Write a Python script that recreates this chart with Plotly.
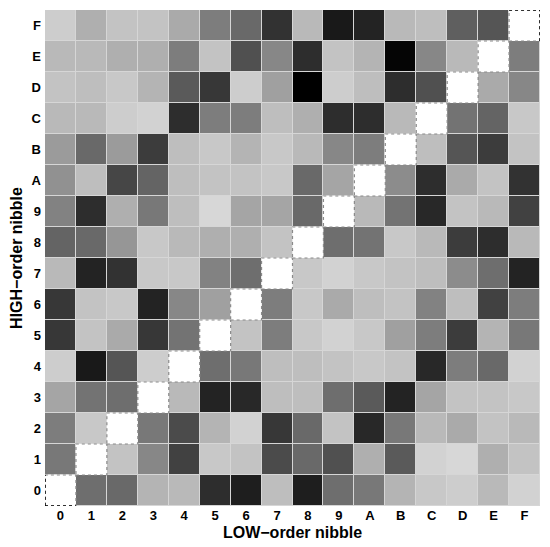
import plotly.graph_objects as go

low_labels = ['0', '1', '2', '3', '4', '5', '6', '7', '8', '9', 'A', 'B', 'C', 'D', 'E', 'F']
high_labels = ['0', '1', '2', '3', '4', '5', '6', '7', '8', '9', 'A', 'B', 'C', 'D', 'E', 'F']

# gray intensity (0 = black, 255 = white); rows = HIGH nibble 0..F, cols = LOW nibble 0..F
row_0 = [255, 110, 105, 180, 185, 45, 30, 190, 30, 110, 120, 180, 200, 205, 185, 210]
row_1 = [120, 255, 195, 135, 65, 200, 195, 75, 105, 80, 175, 90, 210, 215, 175, 195]
row_2 = [125, 200, 255, 120, 75, 180, 210, 55, 105, 195, 40, 120, 185, 170, 195, 185]
row_3 = [165, 115, 110, 255, 185, 35, 40, 190, 190, 110, 90, 35, 165, 195, 195, 200]
row_4 = [205, 25, 85, 205, 255, 110, 120, 190, 190, 195, 200, 195, 40, 125, 105, 210]
row_5 = [55, 195, 170, 55, 115, 255, 195, 125, 200, 210, 200, 160, 125, 60, 180, 120]
row_6 = [55, 195, 200, 35, 135, 160, 255, 125, 200, 170, 190, 195, 130, 190, 65, 125]
row_7 = [185, 35, 50, 200, 200, 130, 110, 255, 200, 210, 200, 195, 190, 140, 110, 35]
row_8 = [100, 105, 150, 200, 185, 175, 175, 195, 255, 110, 115, 200, 185, 60, 45, 185]
row_9 = [130, 45, 175, 120, 190, 215, 165, 165, 105, 255, 185, 115, 40, 195, 185, 65]
row_A = [145, 190, 70, 100, 190, 195, 195, 200, 105, 165, 255, 140, 45, 170, 195, 50]
row_B = [155, 105, 155, 60, 190, 200, 180, 200, 185, 135, 125, 255, 190, 85, 60, 195]
row_C = [185, 185, 205, 210, 45, 125, 125, 190, 175, 45, 45, 185, 255, 115, 100, 200]
row_D = [195, 190, 200, 180, 90, 55, 205, 160, 0, 205, 190, 45, 80, 255, 170, 135]
row_E = [185, 185, 175, 175, 125, 195, 80, 135, 45, 195, 180, 5, 135, 185, 255, 125]
row_F = [205, 175, 195, 195, 170, 125, 105, 50, 185, 25, 35, 185, 190, 95, 85, 255]

z = [row_0, row_1, row_2, row_3, row_4, row_5, row_6, row_7,
     row_8, row_9, row_A, row_B, row_C, row_D, row_E, row_F]

fig = go.Figure(go.Heatmap(
    x=low_labels, y=high_labels, z=z,
    colorscale=[[0, 'rgb(0,0,0)'], [1, 'rgb(255,255,255)']],
    zmin=0, zmax=255, showscale=False, xgap=1, ygap=1,
    hoverinfo='skip'
))

shapes = []
n = len(low_labels)
for i in range(n):
    shapes.append(dict(type='rect', xref='x', yref='y',
                       x0=i - 0.5, x1=i + 0.5, y0=i - 0.5, y1=i + 0.5,
                       line=dict(color='#8a8a8a', width=1.2, dash='dot'),
                       fillcolor='white', layer='above'))
# darker dotted edges on the plot border
shapes.append(dict(type='line', x0=-0.5, x1=-0.5, y0=-0.5, y1=0.5,
                   line=dict(color='black', width=1.5, dash='dot')))
shapes.append(dict(type='line', x0=-0.5, x1=0.5, y0=-0.5, y1=-0.5,
                   line=dict(color='black', width=1.5, dash='dot')))
shapes.append(dict(type='line', x0=n - 1.5, x1=n - 0.5, y0=n - 0.5, y1=n - 0.5,
                   line=dict(color='black', width=1.5, dash='dot')))
shapes.append(dict(type='line', x0=n - 0.5, x1=n - 0.5, y0=n - 1.5, y1=n - 0.5,
                   line=dict(color='black', width=1.5, dash='dot')))

font_family = 'Liberation Sans, Arial, sans-serif'
fig.update_layout(
    width=542, height=539,
    margin=dict(l=34, r=10, t=2, b=41),
    paper_bgcolor='white', plot_bgcolor='#d6d6d6',
    shapes=shapes,
    font=dict(family=font_family, color='black'),
    xaxis=dict(type='category', showgrid=False, zeroline=False, ticks='',
               tickfont=dict(size=13, family=font_family, weight='bold'),
               title=dict(text='LOW\u2212order nibble', standoff=4,
                          font=dict(size=16, family=font_family, weight='bold')),
               range=[-0.5, n - 0.5]),
    yaxis=dict(type='category', showgrid=False, zeroline=False, ticks='',
               ticklabelstandoff=3,
               tickfont=dict(size=13, family=font_family, weight='bold'),
               title=dict(text='HIGH\u2212order nibble', standoff=10,
                          font=dict(size=16, family=font_family, weight='bold')),
               range=[-0.5, n - 0.5]),
)

fig.write_html('out.html')
